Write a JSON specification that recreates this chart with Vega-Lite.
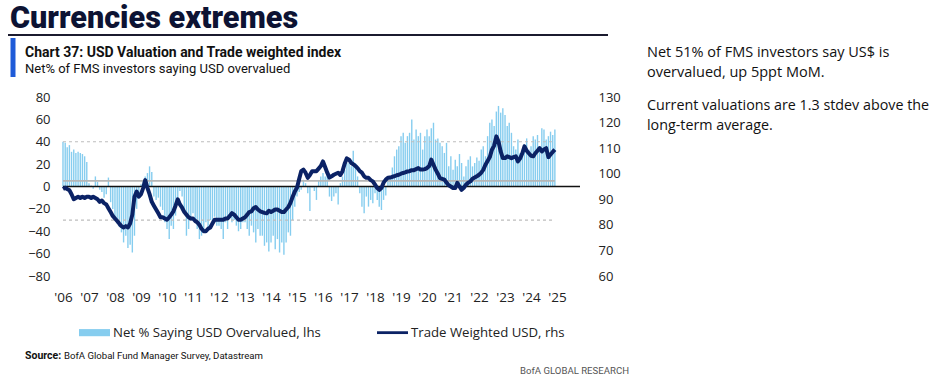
{
  "$schema": "https://vega.github.io/schema/vega-lite/v6.json",
  "autosize": "none",
  "width": 518,
  "height": 179,
  "padding": {"left": 62, "top": 97, "right": 355, "bottom": 115},
  "background": "white",
  "config": {"view": {"stroke": null}, "font": "Roboto", "axis": {"labelOverlap": false, "labelSeparation": 0}},
  "datasets": {
    "fms": [
      {"date":"2006-01-01","net":40,"twi":94},{"date":"2006-02-01","net":39,"twi":94.5},{"date":"2006-03-01","net":35,"twi":94},{"date":"2006-04-01","net":37,"twi":93.5},{"date":"2006-05-01","net":31,"twi":92},{"date":"2006-06-01","net":33,"twi":90},{"date":"2006-07-01","net":30,"twi":90.5},{"date":"2006-08-01","net":31,"twi":91},{"date":"2006-09-01","net":30,"twi":90.5},{"date":"2006-10-01","net":29,"twi":91},{"date":"2006-11-01","net":27,"twi":90.5},{"date":"2006-12-01","net":22,"twi":91},
      {"date":"2007-01-01","net":3,"twi":91},{"date":"2007-02-01","net":1,"twi":90.5},{"date":"2007-03-01","net":-2,"twi":91},{"date":"2007-04-01","net":9,"twi":90.5},{"date":"2007-05-01","net":4,"twi":90},{"date":"2007-06-01","net":-3,"twi":89},{"date":"2007-07-01","net":-5,"twi":89.5},{"date":"2007-08-01","net":-10,"twi":88.5},{"date":"2007-09-01","net":-7,"twi":88},{"date":"2007-10-01","net":8,"twi":86.5},{"date":"2007-11-01","net":-14,"twi":85},{"date":"2007-12-01","net":-20,"twi":83.5},
      {"date":"2008-01-01","net":-30,"twi":82.5},{"date":"2008-02-01","net":-33,"twi":81.5},{"date":"2008-03-01","net":-36,"twi":80.5},{"date":"2008-04-01","net":-41,"twi":79.5},{"date":"2008-05-01","net":-50,"twi":79},{"date":"2008-06-01","net":-44,"twi":79.5},{"date":"2008-07-01","net":-55,"twi":79},{"date":"2008-08-01","net":-52,"twi":80.5},{"date":"2008-09-01","net":-59,"twi":84},{"date":"2008-10-01","net":-44,"twi":91},{"date":"2008-11-01","net":-20,"twi":93},{"date":"2008-12-01","net":-7,"twi":91},
      {"date":"2009-01-01","net":2,"twi":92},{"date":"2009-02-01","net":5,"twi":94.5},{"date":"2009-03-01","net":9,"twi":97.5},{"date":"2009-04-01","net":12,"twi":94.5},{"date":"2009-05-01","net":18,"twi":92},{"date":"2009-06-01","net":13,"twi":89},{"date":"2009-07-01","net":-9,"twi":87.5},{"date":"2009-08-01","net":-12,"twi":86},{"date":"2009-09-01","net":-10,"twi":84.5},{"date":"2009-10-01","net":-18,"twi":83},{"date":"2009-11-01","net":-21,"twi":83},{"date":"2009-12-01","net":-32,"twi":82.5},
      {"date":"2010-01-01","net":-38,"twi":82},{"date":"2010-02-01","net":-47,"twi":83},{"date":"2010-03-01","net":-35,"twi":84},{"date":"2010-04-01","net":-38,"twi":85.3},{"date":"2010-05-01","net":-26,"twi":87.5},{"date":"2010-06-01","net":-14,"twi":90},{"date":"2010-07-01","net":-4,"twi":88},{"date":"2010-08-01","net":-9,"twi":86.7},{"date":"2010-09-01","net":-21,"twi":85},{"date":"2010-10-01","net":-44,"twi":84},{"date":"2010-11-01","net":-38,"twi":83},{"date":"2010-12-01","net":-28,"twi":82.5},
      {"date":"2011-01-01","net":-24,"twi":82.5},{"date":"2011-02-01","net":-30,"twi":81.5},{"date":"2011-03-01","net":-38,"twi":81},{"date":"2011-04-01","net":-47,"twi":80},{"date":"2011-05-01","net":-44,"twi":78.5},{"date":"2011-06-01","net":-41,"twi":77.5},{"date":"2011-07-01","net":-32,"twi":77.5},{"date":"2011-08-01","net":-38,"twi":78.5},{"date":"2011-09-01","net":-30,"twi":79},{"date":"2011-10-01","net":-33,"twi":80.5},{"date":"2011-11-01","net":-27,"twi":82},{"date":"2011-12-01","net":-35,"twi":82},
      {"date":"2012-01-01","net":-35,"twi":82},{"date":"2012-02-01","net":-38,"twi":82},{"date":"2012-03-01","net":-47,"twi":82},{"date":"2012-04-01","net":-32,"twi":82.5},{"date":"2012-05-01","net":-38,"twi":82.5},{"date":"2012-06-01","net":-27,"twi":83.5},{"date":"2012-07-01","net":-32,"twi":84.6},{"date":"2012-08-01","net":-30,"twi":84},{"date":"2012-09-01","net":-35,"twi":83},{"date":"2012-10-01","net":-40,"twi":82},{"date":"2012-11-01","net":-38,"twi":82},{"date":"2012-12-01","net":-32,"twi":82.5},
      {"date":"2013-01-01","net":-32,"twi":83},{"date":"2013-02-01","net":-38,"twi":84},{"date":"2013-03-01","net":-44,"twi":85},{"date":"2013-04-01","net":-35,"twi":85.3},{"date":"2013-05-01","net":-41,"twi":86.5},{"date":"2013-06-01","net":-50,"twi":87},{"date":"2013-07-01","net":-38,"twi":86},{"date":"2013-08-01","net":-44,"twi":85.3},{"date":"2013-09-01","net":-44,"twi":85},{"date":"2013-10-01","net":-53,"twi":84.7},{"date":"2013-11-01","net":-50,"twi":84.5},{"date":"2013-12-01","net":-58,"twi":85.5},
      {"date":"2014-01-01","net":-50,"twi":85},{"date":"2014-02-01","net":-44,"twi":85.5},{"date":"2014-03-01","net":-56,"twi":86},{"date":"2014-04-01","net":-47,"twi":86},{"date":"2014-05-01","net":-59,"twi":85.5},{"date":"2014-06-01","net":-50,"twi":85},{"date":"2014-07-01","net":-61,"twi":85},{"date":"2014-08-01","net":-50,"twi":86},{"date":"2014-09-01","net":-41,"twi":87},{"date":"2014-10-01","net":-44,"twi":88.6},{"date":"2014-11-01","net":-30,"twi":91},{"date":"2014-12-01","net":-18,"twi":93},
      {"date":"2015-01-01","net":-9,"twi":94.5},{"date":"2015-02-01","net":-5,"twi":98},{"date":"2015-03-01","net":-3,"twi":101},{"date":"2015-04-01","net":6,"twi":101.6},{"date":"2015-05-01","net":3,"twi":100.4},{"date":"2015-06-01","net":-6,"twi":98.4},{"date":"2015-07-01","net":-22,"twi":99.5},{"date":"2015-08-01","net":-1,"twi":101},{"date":"2015-09-01","net":-4,"twi":101},{"date":"2015-10-01","net":-12,"twi":101},{"date":"2015-11-01","net":5,"twi":102},{"date":"2015-12-01","net":9,"twi":103},
      {"date":"2016-01-01","net":12,"twi":104.8},{"date":"2016-02-01","net":9,"twi":102.5},{"date":"2016-03-01","net":12,"twi":100.4},{"date":"2016-04-01","net":-9,"twi":98.5},{"date":"2016-05-01","net":-13,"twi":99},{"date":"2016-06-01","net":-9,"twi":99.6},{"date":"2016-07-01","net":-6,"twi":100},{"date":"2016-08-01","net":-16,"twi":100.4},{"date":"2016-09-01","net":3,"twi":99.5},{"date":"2016-10-01","net":9,"twi":101},{"date":"2016-11-01","net":15,"twi":104},{"date":"2016-12-01","net":21,"twi":106},
      {"date":"2017-01-01","net":21,"twi":105.5},{"date":"2017-02-01","net":18,"twi":104.2},{"date":"2017-03-01","net":32,"twi":103.7},{"date":"2017-04-01","net":21,"twi":103},{"date":"2017-05-01","net":9,"twi":102.2},{"date":"2017-06-01","net":-6,"twi":101},{"date":"2017-07-01","net":-18,"twi":100.4},{"date":"2017-08-01","net":-24,"twi":99},{"date":"2017-09-01","net":-9,"twi":98.4},{"date":"2017-10-01","net":-18,"twi":98.4},{"date":"2017-11-01","net":-12,"twi":97.5},{"date":"2017-12-01","net":-15,"twi":97},
      {"date":"2018-01-01","net":-6,"twi":95.7},{"date":"2018-02-01","net":-12,"twi":94.4},{"date":"2018-03-01","net":-18,"twi":93.7},{"date":"2018-04-01","net":-21,"twi":94.4},{"date":"2018-05-01","net":-12,"twi":96.5},{"date":"2018-06-01","net":-8,"twi":97.7},{"date":"2018-07-01","net":6,"twi":98.4},{"date":"2018-08-01","net":9,"twi":98.5},{"date":"2018-09-01","net":17,"twi":98.8},{"date":"2018-10-01","net":27,"twi":99},{"date":"2018-11-01","net":33,"twi":99.4},{"date":"2018-12-01","net":36,"twi":99.6},
      {"date":"2019-01-01","net":45,"twi":100},{"date":"2019-02-01","net":48,"twi":100.3},{"date":"2019-03-01","net":39,"twi":100.5},{"date":"2019-04-01","net":45,"twi":100.9},{"date":"2019-05-01","net":48,"twi":101},{"date":"2019-06-01","net":60,"twi":101.4},{"date":"2019-07-01","net":42,"twi":101.4},{"date":"2019-08-01","net":51,"twi":101.8},{"date":"2019-09-01","net":45,"twi":102.2},{"date":"2019-10-01","net":48,"twi":101.6},{"date":"2019-11-01","net":33,"twi":101.6},{"date":"2019-12-01","net":45,"twi":101.8},
      {"date":"2020-01-01","net":51,"twi":102.2},{"date":"2020-02-01","net":45,"twi":103},{"date":"2020-03-01","net":52,"twi":105.5},{"date":"2020-04-01","net":57,"twi":103.5},{"date":"2020-05-01","net":42,"twi":101.6},{"date":"2020-06-01","net":43,"twi":100},{"date":"2020-07-01","net":39,"twi":98.3},{"date":"2020-08-01","net":36,"twi":98},{"date":"2020-09-01","net":30,"twi":97.7},{"date":"2020-10-01","net":39,"twi":96.5},{"date":"2020-11-01","net":18,"twi":95.5},{"date":"2020-12-01","net":27,"twi":95},
      {"date":"2021-01-01","net":15,"twi":94.4},{"date":"2021-02-01","net":24,"twi":94.4},{"date":"2021-03-01","net":18,"twi":96.4},{"date":"2021-04-01","net":29,"twi":95},{"date":"2021-05-01","net":21,"twi":93.7},{"date":"2021-06-01","net":9,"twi":94.5},{"date":"2021-07-01","net":18,"twi":95.7},{"date":"2021-08-01","net":24,"twi":96.5},{"date":"2021-09-01","net":27,"twi":97},{"date":"2021-10-01","net":18,"twi":98},{"date":"2021-11-01","net":21,"twi":98.5},{"date":"2021-12-01","net":26,"twi":99},
      {"date":"2022-01-01","net":23,"twi":99.6},{"date":"2022-02-01","net":33,"twi":100.4},{"date":"2022-03-01","net":36,"twi":101.5},{"date":"2022-04-01","net":27,"twi":103.5},{"date":"2022-05-01","net":45,"twi":105},{"date":"2022-06-01","net":57,"twi":106.5},{"date":"2022-07-01","net":60,"twi":109.4},{"date":"2022-08-01","net":54,"twi":111},{"date":"2022-09-01","net":67,"twi":114.6},{"date":"2022-10-01","net":72,"twi":112.6},{"date":"2022-11-01","net":66,"twi":108.7},{"date":"2022-12-01","net":70,"twi":106.1},
      {"date":"2023-01-01","net":64,"twi":106.1},{"date":"2023-02-01","net":54,"twi":106.8},{"date":"2023-03-01","net":57,"twi":106.5},{"date":"2023-04-01","net":48,"twi":106.1},{"date":"2023-05-01","net":36,"twi":106.5},{"date":"2023-06-01","net":33,"twi":106.8},{"date":"2023-07-01","net":42,"twi":104.8},{"date":"2023-08-01","net":30,"twi":106},{"date":"2023-09-01","net":33,"twi":108},{"date":"2023-10-01","net":38,"twi":110.7},{"date":"2023-11-01","net":43,"twi":109},{"date":"2023-12-01","net":33,"twi":108},
      {"date":"2024-01-01","net":36,"twi":107},{"date":"2024-02-01","net":45,"twi":106.8},{"date":"2024-03-01","net":42,"twi":108},{"date":"2024-04-01","net":46,"twi":109},{"date":"2024-05-01","net":33,"twi":110},{"date":"2024-06-01","net":52,"twi":108.7},{"date":"2024-07-01","net":51,"twi":109.5},{"date":"2024-08-01","net":42,"twi":110},{"date":"2024-09-01","net":45,"twi":106.5},{"date":"2024-10-01","net":49,"twi":107.5},{"date":"2024-11-01","net":46,"twi":108.5},{"date":"2024-12-01","net":51,"twi":109.4}
    ]
  },
  "layer": [
    {
      "data": {"name": "fms"},
      "mark": {"type": "bar", "size": 1.4},
      "encoding": {
        "x": {
          "field": "date", "type": "temporal",
          "scale": {"domain": [{"year": 2005, "month": 12, "date": 18}, {"year": 2025, "month": 11, "date": 19}], "nice": false, "padding": 0},
          "axis": {"format": "'%y", "tickCount": {"interval": "year", "step": 1}, "labelOverlap": false, "labelFlush": false, "domain": false, "ticks": false, "tickSize": 0, "grid": false, "title": null, "labelAngle": 0, "labelPadding": 14, "labelFontSize": 13.5, "labelColor": "#222222", "labelFont": "Open Sans"}
        },
        "y": {
          "field": "net", "type": "quantitative",
          "scale": {"domain": [-80, 80], "nice": false},
          "axis": {"orient": "left", "values": [-80, -60, -40, -20, 0, 20, 40, 60, 80], "labelOverlap": false, "domain": false, "ticks": false, "tickSize": 0, "grid": false, "title": null, "labelPadding": 12, "labelFontSize": 13, "labelColor": "#222222", "labelFont": "Open Sans"}
        },
        "color": {
          "datum": "Net % Saying USD Overvalued, lhs", "type": "nominal",
          "scale": {"domain": ["Net % Saying USD Overvalued, lhs", "Trade Weighted USD, rhs"], "range": ["#86CDEF", "#0B2265"]},
          "legend": {
            "orient": "none", "legendX": 17, "legendY": 220, "direction": "horizontal", "title": null,
            "symbolType": "M-1,-0.23H1V0.23H-1Z", "symbolSize": 961, "symbolStrokeWidth": 0,
            "labelFontSize": 13.2, "labelFont": "Open Sans", "labelColor": "#222222", "labelOffset": 3, "labelLimit": 0, "columnPadding": 56,
            "encode": {"symbols": {"update": {
              "shape": {"signal": "datum.value === 'Trade Weighted USD, rhs' ? 'M-1,-0.09H1V0.09H-1Z' : 'M-1,-0.23H1V0.23H-1Z'"},
              "fill": {"scale": "color", "field": "value"},
              "opacity": {"value": 1}
            }}}
          }
        }
      }
    },
    {
      "data": {"values": [{}]},
      "mark": {"type": "rule", "color": "#BDBDBD", "strokeWidth": 1.2, "strokeDash": [3, 3]},
      "encoding": {
        "x": {"datum": {"year": 2006, "month": 1, "date": 1}, "type": "temporal"},
        "x2": {"datum": {"year": 2024, "month": 12, "date": 1}},
        "y": {"datum": 40, "type": "quantitative", "scale": {"domain": [-80, 80], "nice": false}, "axis": null}
      }
    },
    {
      "data": {"values": [{}]},
      "mark": {"type": "rule", "color": "#BDBDBD", "strokeWidth": 1.2, "strokeDash": [3, 3]},
      "encoding": {
        "x": {"datum": {"year": 2006, "month": 1, "date": 1}, "type": "temporal"},
        "x2": {"datum": {"year": 2024, "month": 12, "date": 1}},
        "y": {"datum": -30, "type": "quantitative", "scale": {"domain": [-80, 80], "nice": false}, "axis": null}
      }
    },
    {
      "data": {"values": [{}]},
      "mark": {"type": "rule", "color": "#B5B5B5", "strokeWidth": 1.6},
      "encoding": {
        "x": {"datum": {"year": 2006, "month": 1, "date": 1}, "type": "temporal"},
        "x2": {"datum": {"year": 2024, "month": 12, "date": 1}},
        "y": {"datum": 5, "type": "quantitative", "scale": {"domain": [-80, 80], "nice": false}, "axis": null}
      }
    },
    {
      "data": {"values": [{}]},
      "mark": {"type": "rule", "color": "#111111", "strokeWidth": 1.4},
      "encoding": {
        "x": {"datum": {"year": 2006, "month": 1, "date": 1}, "type": "temporal"},
        "x2": {"datum": {"year": 2025, "month": 11, "date": 19}},
        "y": {"datum": 0, "type": "quantitative", "scale": {"domain": [-80, 80], "nice": false}, "axis": null}
      }
    },
    {
      "data": {"name": "fms"},
      "mark": {"type": "line", "strokeWidth": 4, "strokeJoin": "round"},
      "encoding": {
        "x": {"field": "date", "type": "temporal"},
        "y": {
          "field": "twi", "type": "quantitative",
          "scale": {"domain": [60, 130], "nice": false},
          "axis": {"orient": "right", "values": [60, 70, 80, 90, 100, 110, 120, 130], "labelOverlap": false, "domain": false, "ticks": false, "tickSize": 0, "grid": false, "title": null, "labelPadding": 18, "labelFontSize": 13, "labelColor": "#222222", "labelFont": "Open Sans"}
        },
        "color": {"datum": "Trade Weighted USD, rhs", "type": "nominal"}
      }
    },
    {
      "data": {"values": [{}]},
      "mark": {"type": "text", "text": "Currencies extremes", "font": "Roboto", "fontSize": 30.6, "fontWeight": 900, "color": "#0D1333", "align": "left", "baseline": "alphabetic"},
      "encoding": {"x": {"value": -52}, "y": {"value": -69}}
    },
    {
      "data": {"values": [{}]},
      "mark": {"type": "rule", "color": "#1B1B2F", "strokeWidth": 2},
      "encoding": {"x": {"value": -54}, "x2": {"value": 546}, "y": {"value": -62}}
    },
    {
      "data": {"values": [{}]},
      "mark": {"type": "rule", "color": "#1F5BD8", "strokeWidth": 5},
      "encoding": {"x": {"value": -49}, "y": {"value": -59}, "y2": {"value": -20}}
    },
    {
      "data": {"values": [{}]},
      "mark": {"type": "text", "text": "Chart 37: USD Valuation and Trade weighted index", "font": "Roboto", "fontSize": 14, "fontWeight": "bold", "color": "#111111", "align": "left", "baseline": "alphabetic"},
      "encoding": {"x": {"value": -37}, "y": {"value": -40}}
    },
    {
      "data": {"values": [{}]},
      "mark": {"type": "text", "text": "Net% of FMS investors saying USD overvalued", "font": "Roboto", "fontSize": 13, "color": "#111111", "align": "left", "baseline": "alphabetic"},
      "encoding": {"x": {"value": -37}, "y": {"value": -24}}
    },
    {
      "data": {"values": [{}]},
      "mark": {"type": "text", "text": ["Net 51% of FMS investors say US$ is", "overvalued, up 5ppt MoM."], "font": "Open Sans", "fontSize": 14.5, "lineHeight": 20, "color": "#111111", "align": "left", "baseline": "alphabetic"},
      "encoding": {"x": {"value": 585}, "y": {"value": -40}}
    },
    {
      "data": {"values": [{}]},
      "mark": {"type": "text", "text": ["Current valuations are 1.3 stdev above the", "long-term average."], "font": "Open Sans", "fontSize": 14.3, "lineHeight": 20, "color": "#111111", "align": "left", "baseline": "alphabetic"},
      "encoding": {"x": {"value": 585}, "y": {"value": 13}}
    },
    {
      "data": {"values": [{}]},
      "mark": {"type": "text", "text": "Source:", "font": "Roboto", "fontSize": 10.5, "fontWeight": "bold", "color": "#111111", "align": "left", "baseline": "alphabetic"},
      "encoding": {"x": {"value": -37}, "y": {"value": 262}}
    },
    {
      "data": {"values": [{}]},
      "mark": {"type": "text", "text": "BofA Global Fund Manager Survey, Datastream", "font": "Roboto", "fontSize": 9.6, "color": "#111111", "align": "left", "baseline": "alphabetic"},
      "encoding": {"x": {"value": 2}, "y": {"value": 262}}
    },
    {
      "data": {"values": [{}]},
      "mark": {"type": "text", "text": "BofA GLOBAL RESEARCH", "font": "Roboto", "fontSize": 9.6, "color": "#555555", "align": "left", "baseline": "alphabetic"},
      "encoding": {"x": {"value": 458}, "y": {"value": 277}}
    }
  ],
  "resolve": {"scale": {"y": "independent"}}
}
